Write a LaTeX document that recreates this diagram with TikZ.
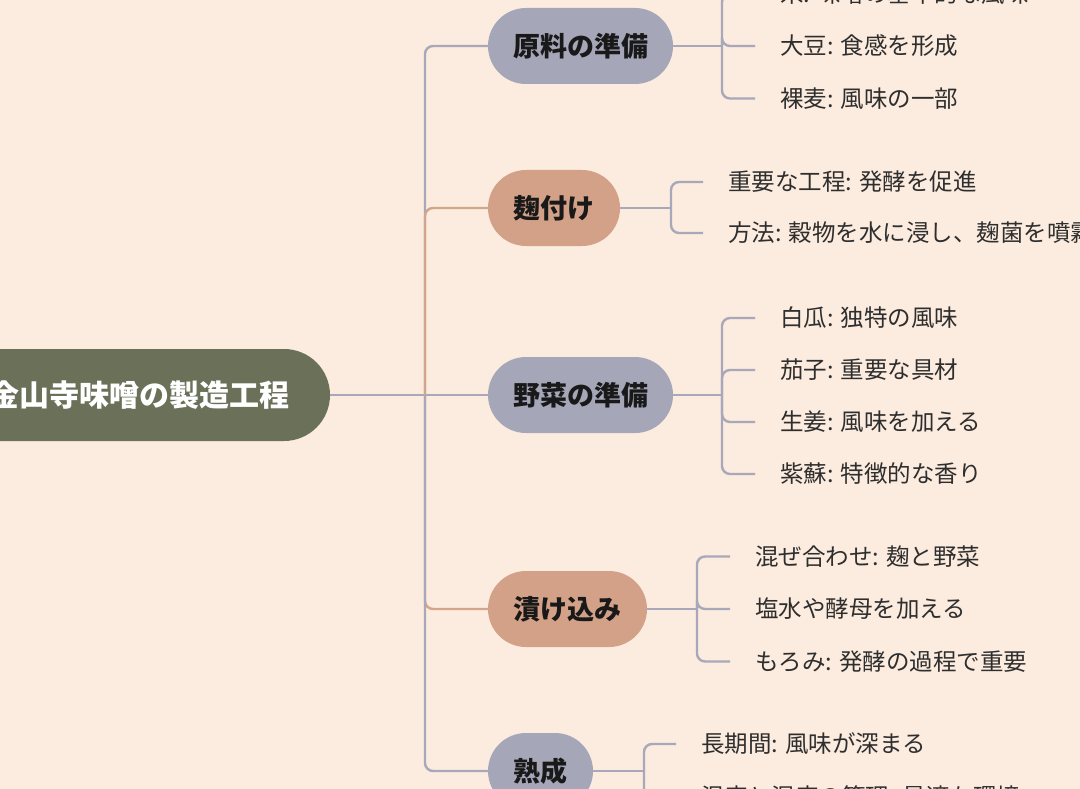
\documentclass[tikz,border=0pt]{standalone}
\usepackage{fontspec}
\setmainfont{Noto Sans CJK JP}
\definecolor{bg}{HTML}{FCECDF}
\definecolor{rootc}{HTML}{6B7059}
\definecolor{grayc}{HTML}{A5A6B8}
\definecolor{tanc}{HTML}{D3A187}
\definecolor{lgray}{HTML}{A9A8BA}
\definecolor{ltan}{HTML}{D2A68C}
\definecolor{txt}{HTML}{2E2E2E}
\pgfdeclarelayer{bglayer}
\pgfdeclarelayer{lines}
\pgfsetlayers{bglayer,lines,main}
\tikzset{
  link/.style={line width=2.4pt, rounded corners=8pt},
  pill/.style={rounded corners=38pt, minimum height=76pt, inner sep=0pt,
    font=\fontsize{27}{32}\selectfont\bfseries, text=black!90},
  graypill/.style={pill, fill=grayc},
  tanpill/.style={pill, fill=tanc},
  rootpill/.style={fill=rootc, rounded corners=46pt, minimum height=92pt, minimum width=380pt,
    inner sep=0pt, font=\fontsize{30}{36}\selectfont\bfseries, text=white},
  leaf/.style={anchor=west, inner xsep=25pt, inner ysep=0pt,
    font=\fontsize{23.5}{28}\selectfont, text=txt},
}
\begin{document}
\begin{tikzpicture}[x=1pt,y=-1pt]
\useasboundingbox (0,0) rectangle (1080,789);
\clip (0,0) rectangle (1080,789);
\begin{pgfonlayer}{bglayer}
\fill[bg] (0,0) rectangle (1080,789);
\end{pgfonlayer}

% nodes
\node[rootpill] (root) at (140,395) {金山寺味噌の製造工程};
\node[graypill, minimum width=185pt] (b1) at (580.5,46) {原料の準備};
\node[tanpill, minimum width=132pt] (b2) at (554,208) {麹付け};
\node[graypill, minimum width=185pt] (b3) at (580.5,395) {野菜の準備};
\node[tanpill, minimum width=159pt] (b4) at (567.5,609) {漬け込み};
\node[graypill, minimum width=105pt] (b5) at (540.5,771) {熟成};

% leaves
\node[leaf] (l11) at (755,-6) {米: 味噌の基本的な風味};
\node[leaf] (l12) at (755,46) {大豆: 食感を形成};
\node[leaf] (l13) at (755,98.5) {裸麦: 風味の一部};
\node[leaf] (l21) at (703,182) {重要な工程: 発酵を促進};
\node[leaf] (l22) at (703,233) {方法: 穀物を水に浸し、麹菌を噴霧};
\node[leaf] (l31) at (755,318) {白瓜: 独特の風味};
\node[leaf] (l32) at (755,370) {茄子: 重要な具材};
\node[leaf] (l33) at (755,422) {生姜: 風味を加える};
\node[leaf] (l34) at (755,474) {紫蘇: 特徴的な香り};
\node[leaf] (l41) at (730,556.5) {混ぜ合わせ: 麹と野菜};
\node[leaf] (l42) at (730,609) {塩水や酵母を加える};
\node[leaf] (l43) at (730,661.5) {もろみ: 発酵の過程で重要};
\node[leaf] (l51) at (676,744) {長期間: 風味が深まる};
\node[leaf] (l52) at (676,796.5) {温度と湿度の管理: 最適な環境};

% junctions
\coordinate (t) at (425,395);
\coordinate (j1) at (722,46);
\coordinate (j2) at (671,208);
\coordinate (j3) at (722,395);
\coordinate (j4) at (697,609);
\coordinate (j5) at (644,771);

\begin{pgfonlayer}{lines}
% trunk links
\draw[link, lgray] (root.east) -- (b3.west);
\draw[link, lgray] (t) |- (b1.west);
\draw[link, ltan] (t) |- (b2.west);
\draw[link, ltan] (t) |- (b4.west);
\draw[link, lgray] (t) |- (b5.west);
% leaf links
\draw[link, lgray] (b1.east) -- (j1);
\foreach \l in {l11,l12,l13} \draw[link, lgray] (j1) |- (\l.west);
\draw[link, lgray] (b2.east) -- (j2);
\foreach \l in {l21,l22} \draw[link, lgray] (j2) |- (\l.west);
\draw[link, lgray] (b3.east) -- (j3);
\foreach \l in {l31,l32,l33,l34} \draw[link, lgray] (j3) |- (\l.west);
\draw[link, lgray] (b4.east) -- (j4);
\foreach \l in {l41,l42,l43} \draw[link, lgray] (j4) |- (\l.west);
\draw[link, lgray] (b5.east) -- (j5);
\foreach \l in {l51,l52} \draw[link, lgray] (j5) |- (\l.west);
\end{pgfonlayer}
\end{tikzpicture}
\end{document}
